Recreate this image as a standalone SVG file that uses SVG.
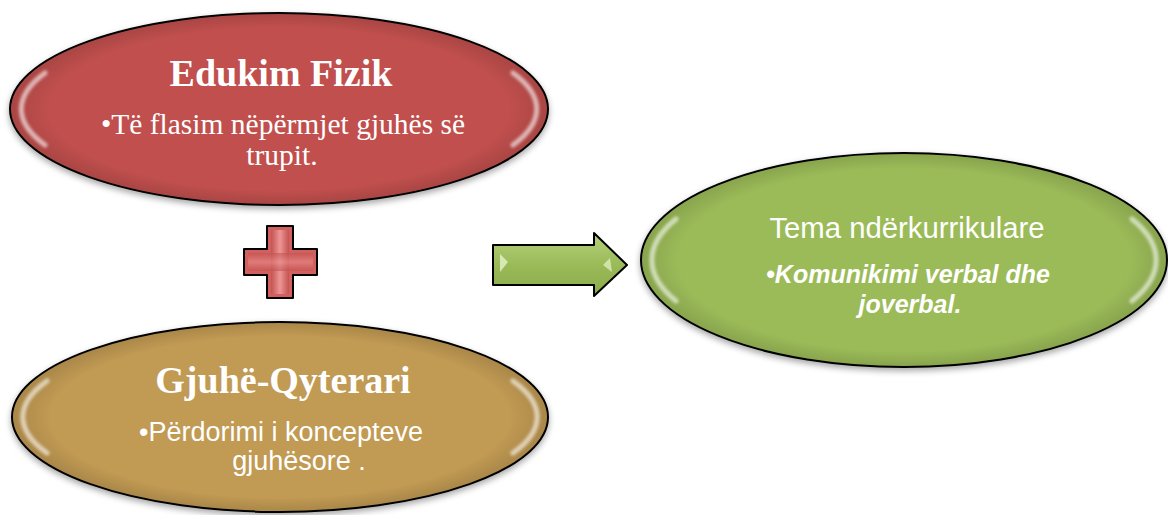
<svg xmlns="http://www.w3.org/2000/svg" width="1168" height="515" viewBox="0 0 1168 515">
  <defs>
    <filter id="shadow" x="-10%" y="-10%" width="120%" height="130%">
      <feDropShadow dx="0" dy="3" stdDeviation="3" flood-color="#000" flood-opacity="0.35"/>
    </filter>
    <filter id="soft" x="-20%" y="-20%" width="140%" height="140%">
      <feGaussianBlur stdDeviation="1.6"/>
    </filter>
    <radialGradient id="rim" cx="0.5" cy="0.5" r="0.5">
      <stop offset="0.86" stop-color="#000" stop-opacity="0"/>
      <stop offset="1" stop-color="#000" stop-opacity="0.12"/>
    </radialGradient>
    <linearGradient id="plusV" x1="0" y1="0" x2="1" y2="0">
      <stop offset="0" stop-color="#c0504d"/>
      <stop offset="0.5" stop-color="#f2a3a2"/>
      <stop offset="1" stop-color="#c0504d"/>
    </linearGradient>
    <linearGradient id="plusH" x1="0" y1="0" x2="0" y2="1">
      <stop offset="0" stop-color="#c0504d"/>
      <stop offset="0.5" stop-color="#e88c8b"/>
      <stop offset="1" stop-color="#c0504d"/>
    </linearGradient>
    <linearGradient id="arrowG" x1="0" y1="0" x2="0" y2="1">
      <stop offset="0" stop-color="#b5d07c"/>
      <stop offset="0.5" stop-color="#9bbb59"/>
      <stop offset="1" stop-color="#8aaa4a"/>
    </linearGradient>
  </defs>
  <style>
    .ell { stroke: #000; stroke-width: 2; filter: url(#shadow); }
    .rim { fill: url(#rim); stroke: none; }
    .hl { fill: none; stroke: #fff; stroke-width: 5; stroke-linecap: round; opacity: 0.6; filter: url(#soft); }
    .head { font-family: "Liberation Serif", "Times New Roman", serif; font-weight: bold; fill: #fff; text-anchor: middle; }
    .serif { font-family: "Liberation Serif", "Times New Roman", serif; fill: #fff; text-anchor: middle; }
    .sans { font-family: "Liberation Sans", Arial, sans-serif; fill: #fff; text-anchor: middle; }
    .shape { stroke: #000; stroke-width: 2; stroke-linejoin: round; }
  </style>
  <rect width="1168" height="515" fill="#fff"/>

  <g id="node-edukim-fizik">
    <ellipse class="ell" cx="279" cy="109" rx="269" ry="96" fill="#c0504d"/>
    <ellipse class="rim" cx="279" cy="109" rx="268" ry="95"/>
    <path class="hl" d="M45,145 A258,86 0 0 1 45,73"/>
    <path class="hl" d="M513,73 A258,86 0 0 1 513,145"/>
    <text class="head" x="281" y="86" font-size="38">Edukim Fizik</text>
    <text class="serif" x="283" y="134" font-size="29.5">•Të flasim nëpërmjet gjuhës së</text>
    <text class="serif" x="282" y="165" font-size="29.5">trupit.</text>
  </g>

  <g id="node-gjuhe-qyterari">
    <ellipse class="ell" cx="280" cy="417" rx="268" ry="95" fill="#c19a53"/>
    <ellipse class="rim" cx="280" cy="417" rx="267" ry="94"/>
    <path class="hl" d="M47,453 A257,85 0 0 1 47,381"/>
    <path class="hl" d="M513,381 A257,85 0 0 1 513,453"/>
    <text class="head" x="283" y="393" font-size="38">Gjuhë-Qyterari</text>
    <text class="sans" x="281" y="441" font-size="27">•Përdorimi i koncepteve</text>
    <text class="sans" x="299" y="470" font-size="27">gjuhësore .</text>
  </g>

  <g id="node-tema">
    <ellipse class="ell" cx="904" cy="260" rx="263" ry="107" fill="#9bbb59"/>
    <ellipse class="rim" cx="904" cy="260" rx="262" ry="106"/>
    <path class="hl" d="M676,301 A252,96 0 0 1 676,219"/>
    <path class="hl" d="M1132,219 A252,96 0 0 1 1132,301"/>
    <text class="sans" x="907" y="238" font-size="29.3">Tema ndërkurrikulare</text>
    <text class="sans" x="908" y="283" font-size="25" font-weight="bold" font-style="italic">•Komunikimi verbal dhe</text>
    <text class="sans" x="910" y="313" font-size="25" font-weight="bold" font-style="italic">joverbal.</text>
  </g>

  <g id="node-plus">
    <path class="shape" d="M267,226 H293 V249 H317 V275 H293 V298 H267 V275 H244 V249 H267 Z" fill="#d2605e"/>
    <rect x="271" y="230" width="18" height="64" fill="url(#plusV)" opacity="0.8"/>
    <rect x="248" y="253" width="65" height="18" fill="url(#plusH)" opacity="0.6"/>
  </g>

  <g id="connectors">
    <path class="shape" d="M493,245 H594 V233 L627,265 L594,296 V285 H493 Z" fill="url(#arrowG)"/>
    <path d="M500,254 L508,262 L500,272 Z" fill="#e6f2c8" opacity="0.8"/>
    <path d="M610,258 L603,265 L612,272 Z" fill="#e6f2c8" opacity="0.7"/>
  </g>
</svg>
